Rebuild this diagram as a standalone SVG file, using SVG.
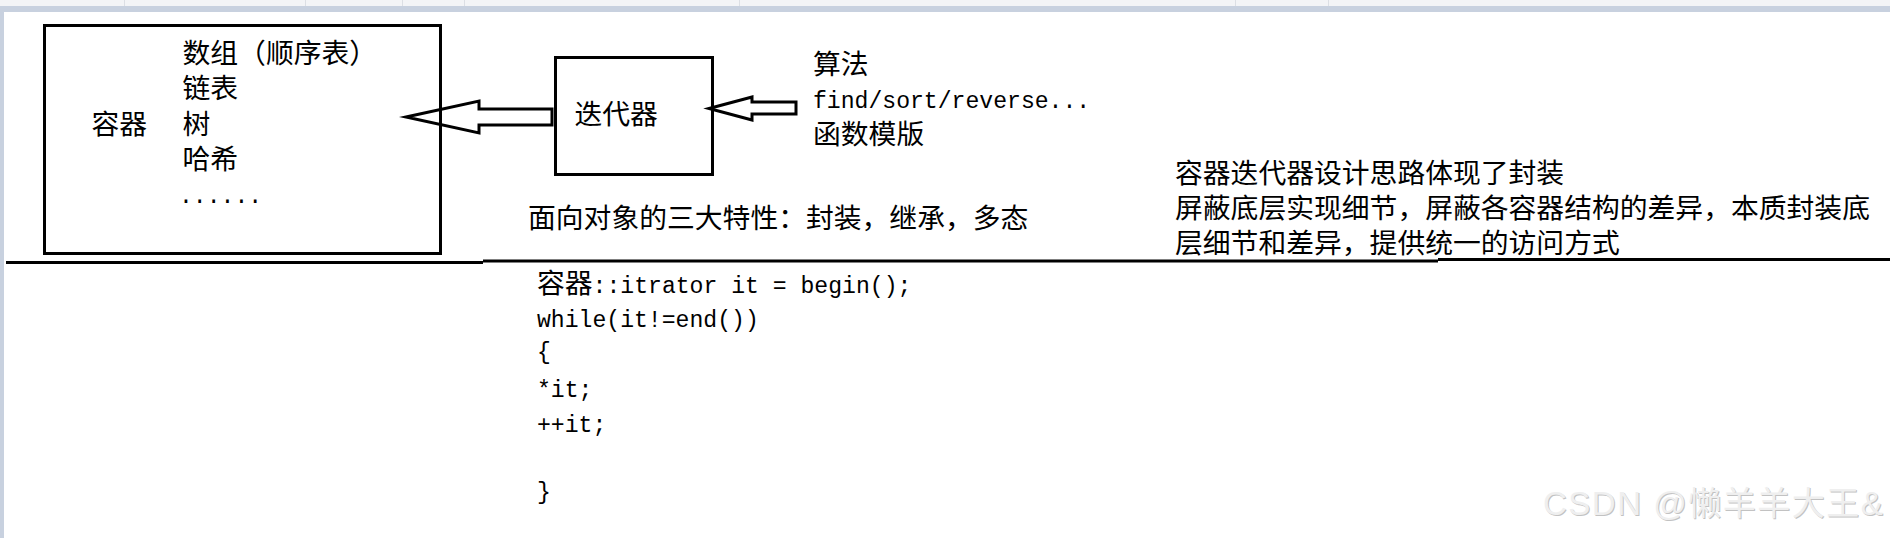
<svg xmlns="http://www.w3.org/2000/svg" width="1890" height="538" viewBox="0 0 1890 538">
<style>
.cjk{font-family:"Noto Sans CJK SC","Noto Sans CJK JP",sans-serif;font-size:27.8px;fill:#000}
.mono{font-family:"Liberation Mono","DejaVu Sans Mono",monospace;font-size:23.1px;fill:#000}
.box{fill:none;stroke:#000;stroke-width:3}
.arrow{fill:none;stroke:#000;stroke-width:3;stroke-linejoin:miter;stroke-miterlimit:10}
.rule{stroke:#000;stroke-width:3}
.sep{stroke:#dcdfe4;stroke-width:1}
.wm{font-family:"Liberation Sans","Noto Sans CJK SC",sans-serif;font-size:33px;letter-spacing:1.5px}
</style>
<rect width="1890" height="538" fill="#fff"/>
<g id="chrome">
<rect x="0" y="0" width="1890" height="6" fill="#f3f4f6"/>
<line class="sep" x1="124.5" y1="0" x2="124.5" y2="6"/>
<line class="sep" x1="305.5" y1="0" x2="305.5" y2="6"/>
<line class="sep" x1="402.5" y1="0" x2="402.5" y2="6"/>
<line class="sep" x1="464.5" y1="0" x2="464.5" y2="6"/>
<line class="sep" x1="739.5" y1="0" x2="739.5" y2="6"/>
<line class="sep" x1="1235.5" y1="0" x2="1235.5" y2="6"/>
<line class="sep" x1="1328.5" y1="0" x2="1328.5" y2="6"/>
<rect x="0" y="6" width="1890" height="6" fill="#c8d1df"/>
<rect x="0" y="6" width="4" height="532" fill="#c8d1df"/>
</g>
<g id="divider">
<line class="rule" x1="6" y1="262.5" x2="483" y2="262.5"/>
<line class="rule" x1="483" y1="261" x2="1438" y2="261"/>
<line class="rule" x1="1438" y1="259.5" x2="1890" y2="259.5"/>
</g>
<g id="container">
<rect class="box" x="44.5" y="25.5" width="396" height="228"/>
<text class="cjk" x="91.5" y="134">容器</text>
<text class="cjk" x="182.5" y="62.5">数组（顺序表）</text>
<text class="cjk" x="182.5" y="97.5">链表</text>
<text class="cjk" x="182.5" y="133.5">树</text>
<text class="cjk" x="182.5" y="168.5">哈希</text>
<text class="mono" x="179" y="203">......</text>
</g>
<g id="iterator">
<rect class="box" x="555.5" y="57.5" width="157" height="117"/>
<text class="cjk" x="574.5" y="123.5">迭代器</text>
</g>
<g id="algorithm">
<text class="cjk" x="813" y="73.5">算法</text>
<text class="mono" x="813" y="107.5">find/sort/reverse...</text>
<text class="cjk" x="813" y="144">函数模版</text>
</g>
<g id="oop-note">
<text class="cjk" x="528" y="228">面向对象的三大特性：封装，继承，多态</text>
</g>
<g id="encapsulation-note">
<text class="cjk" x="1175" y="182.5">容器迭代器设计思路体现了封装</text>
<text class="cjk" x="1175" y="218">屏蔽底层实现细节，屏蔽各容器结构的差异，本质封装底</text>
<text class="cjk" x="1175" y="253">层细节和差异，提供统一的访问方式</text>
</g>
<g id="connectors">
<polygon class="arrow" points="406,117 479,101 479,109 552,109 552,125 479,125 479,133"/>
<polygon class="arrow" points="709,108.5 752,97 752,102 796,102 796,114 752,114 752,120"/>
</g>
<g id="code">
<text x="537" y="292.5"><tspan class="cjk">容器</tspan><tspan class="mono">::itrator it = begin();</tspan></text>
<text class="mono" x="537" y="327">while(it!=end())</text>
<text class="mono" x="537" y="359">{</text>
<text class="mono" x="537" y="397">*it;</text>
<text class="mono" x="537" y="432">++it;</text>
<text class="mono" x="537" y="499">}</text>
</g>
<g id="watermark">
<text class="wm" x="1544" y="516" fill="#c2c2c2">CSDN @懒羊羊大王&amp;</text>
<text class="wm" x="1543" y="515" fill="#efefef">CSDN @懒羊羊大王&amp;</text>
</g>
</svg>
